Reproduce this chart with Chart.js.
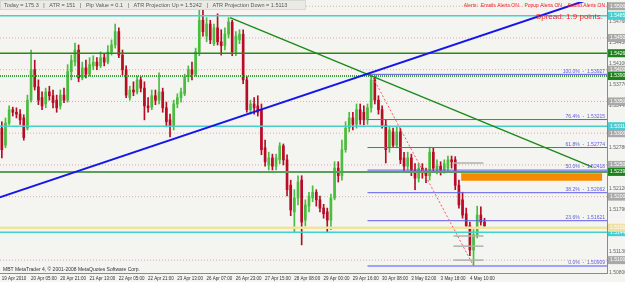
<!DOCTYPE html>
<html><head><meta charset="utf-8">
<script src="https://cdn.jsdelivr.net/npm/chart.js@4.4.0/dist/chart.umd.min.js"></script>
<style>html,body{margin:0;padding:0;background:#f4f4f0;overflow:hidden}canvas{display:block}</style>
</head><body>
<canvas id="c" width="625" height="282"></canvas>
<script>
// ---- candles (H2 bars), index 0..132 ----
const openP = [1.5308,1.5281,1.5316,1.5337,1.5333,1.5330,1.5324,1.5308,1.5352,1.5400,1.5373,1.5356,1.5346,1.5365,1.5359,1.5352,1.5343,1.5360,1.5352,1.5397,1.5412,1.5431,1.5387,1.5403,1.5393,1.5406,1.5412,1.5406,1.5419,1.5412,1.5428,1.5439,1.5460,1.5423,1.5400,1.5356,1.5368,1.5365,1.5384,1.5371,1.5343,1.5341,1.5359,1.5352,1.5365,1.5340,1.5321,1.5311,1.5346,1.5356,1.5362,1.5389,1.5400,1.5393,1.5428,1.5478,1.5453,1.5472,1.5441,1.5466,1.5444,1.5438,1.5456,1.5475,1.5428,1.5447,1.5456,1.5384,1.5337,1.5346,1.5343,1.5337,1.5277,1.5250,1.5261,1.5248,1.5258,1.5280,1.5258,1.5218,1.5176,1.5198,1.5226,1.5163,1.5185,1.5198,1.5207,1.5195,1.5182,1.5176,1.5163,1.5198,1.5245,1.5233,1.5274,1.5308,1.5324,1.5314,1.5337,1.5333,1.5321,1.5340,1.5384,1.5352,1.5337,1.5313,1.5277,1.5302,1.5281,1.5302,1.5261,1.5248,1.5261,1.5242,1.5229,1.5245,1.5239,1.5233,1.5270,1.5242,1.5248,1.5242,1.5245,1.5258,1.5258,1.5218,1.5195,1.5173,1.5154,1.5116,1.5140,1.5171,1.5160];
const highP = [1.5318,1.5324,1.5343,1.5341,1.5340,1.5337,1.5329,1.5360,1.5431,1.5415,1.5384,1.5365,1.5371,1.5374,1.5368,1.5360,1.5368,1.5371,1.5408,1.5423,1.5442,1.5439,1.5412,1.5415,1.5419,1.5422,1.5419,1.5428,1.5425,1.5438,1.5447,1.5472,1.5466,1.5431,1.5406,1.5374,1.5381,1.5390,1.5389,1.5381,1.5356,1.5368,1.5368,1.5395,1.5371,1.5349,1.5330,1.5352,1.5362,1.5371,1.5393,1.5406,1.5412,1.5434,1.5494,1.5502,1.5482,1.5478,1.5472,1.5488,1.5463,1.5466,1.5482,1.5478,1.5460,1.5463,1.5463,1.5389,1.5352,1.5356,1.5359,1.5346,1.5289,1.5270,1.5267,1.5267,1.5285,1.5283,1.5266,1.5226,1.5211,1.5233,1.5233,1.5195,1.5207,1.5217,1.5211,1.5201,1.5188,1.5182,1.5204,1.5255,1.5255,1.5289,1.5318,1.5333,1.5333,1.5346,1.5346,1.5343,1.5346,1.5393,1.5390,1.5359,1.5343,1.5321,1.5311,1.5308,1.5311,1.5308,1.5270,1.5270,1.5267,1.5252,1.5252,1.5252,1.5245,1.5278,1.5277,1.5258,1.5255,1.5258,1.5264,1.5264,1.5263,1.5226,1.5207,1.5182,1.5160,1.5148,1.5185,1.5184,1.5166];
const lowP = [1.5261,1.5277,1.5313,1.5327,1.5324,1.5314,1.5289,1.5305,1.5349,1.5368,1.5345,1.5337,1.5340,1.5352,1.5340,1.5333,1.5338,1.5348,1.5349,1.5384,1.5406,1.5381,1.5384,1.5387,1.5390,1.5400,1.5400,1.5403,1.5406,1.5409,1.5423,1.5434,1.5419,1.5392,1.5356,1.5352,1.5359,1.5362,1.5365,1.5321,1.5333,1.5337,1.5345,1.5346,1.5333,1.5310,1.5294,1.5305,1.5340,1.5349,1.5359,1.5381,1.5384,1.5390,1.5422,1.5453,1.5444,1.5441,1.5438,1.5439,1.5423,1.5431,1.5450,1.5422,1.5422,1.5441,1.5378,1.5333,1.5330,1.5330,1.5327,1.5266,1.5248,1.5242,1.5242,1.5242,1.5252,1.5250,1.5201,1.5170,1.5144,1.5187,1.5124,1.5154,1.5176,1.5192,1.5185,1.5176,1.5166,1.5144,1.5148,1.5195,1.5223,1.5226,1.5270,1.5302,1.5305,1.5308,1.5314,1.5313,1.5314,1.5333,1.5346,1.5330,1.5308,1.5253,1.5270,1.5277,1.5277,1.5252,1.5239,1.5242,1.5233,1.5211,1.5223,1.5229,1.5222,1.5226,1.5239,1.5236,1.5234,1.5237,1.5239,1.5245,1.5211,1.5182,1.5166,1.5151,1.5107,1.5091,1.5135,1.5155,1.5151];
const closeP = [1.5274,1.5316,1.5337,1.5333,1.5330,1.5321,1.5293,1.5352,1.5400,1.5373,1.5352,1.5343,1.5365,1.5359,1.5348,1.5340,1.5360,1.5352,1.5397,1.5415,1.5431,1.5387,1.5403,1.5393,1.5408,1.5412,1.5406,1.5419,1.5412,1.5428,1.5439,1.5460,1.5423,1.5400,1.5360,1.5368,1.5365,1.5384,1.5371,1.5343,1.5340,1.5359,1.5352,1.5365,1.5340,1.5318,1.5311,1.5346,1.5356,1.5365,1.5389,1.5400,1.5393,1.5428,1.5478,1.5460,1.5472,1.5447,1.5466,1.5444,1.5438,1.5456,1.5475,1.5428,1.5453,1.5456,1.5384,1.5337,1.5346,1.5340,1.5333,1.5274,1.5255,1.5261,1.5248,1.5261,1.5280,1.5258,1.5211,1.5179,1.5198,1.5223,1.5160,1.5187,1.5201,1.5207,1.5195,1.5182,1.5173,1.5163,1.5198,1.5245,1.5233,1.5274,1.5308,1.5324,1.5314,1.5337,1.5321,1.5321,1.5340,1.5384,1.5352,1.5337,1.5313,1.5274,1.5305,1.5281,1.5302,1.5258,1.5248,1.5261,1.5242,1.5229,1.5245,1.5239,1.5233,1.5270,1.5245,1.5248,1.5242,1.5252,1.5258,1.5255,1.5218,1.5187,1.5171,1.5154,1.5116,1.5140,1.5171,1.5160,1.5154];

// ---- time axis labels (every 8 bars) ----
const timeLabels = ["19 Apr 2010","20 Apr 05:00","20 Apr 21:00","21 Apr 13:00","22 Apr 05:00","22 Apr 21:00","23 Apr 13:00","26 Apr 07:00","26 Apr 23:00","27 Apr 15:00","28 Apr 08:00","29 Apr 00:00","29 Apr 16:00","30 Apr 08:00","3 May 02:00","3 May 18:00","4 May 10:00"];
const timeLabelBars = [0,8,16,24,32,40,48,56,64,72,80,88,96,104,112,120,128];

// ---- price axis ticks ----
const priceTicks = [1.5080,1.5113,1.5146,1.5179,1.5212,1.5245,1.5278,1.5311,1.5344,1.5377,1.5410,1.5443,1.5476];

// ---- horizontal objects ----
const roundLevels = [1.5100,1.5150,1.5200,1.5250,1.5300,1.5350,1.5400,1.5450,1.5500];
const cyanLevels = [1.5485,1.5311,1.5144];
const greenLevels = [1.5426,1.5390,1.5239];
const creamLevels = [1.5151];
const grayMarks = [1.5253,1.5138,1.5122,1.5100];

// ---- fibonacci ----
const fibPct = [0,23.6,38.2,50,61.8,76.4,100];
const fibPrice = [1.50909,1.51621,1.52062,1.52418,1.52774,1.53215,1.53927];
const fibAnchors = [{x:101,y:1.5393},{x:129,y:1.5091}];

// ---- trendlines ----
const blueTrend = [{x:-1,y:1.5198},{x:170,y:1.5529}];
const greenTrend = [{x:62.4,y:1.5482},{x:161.4,y:1.5247}];
const orangeZone = {x0:125.6, x1:164.2, top:1.5237, bottom:1.5225};

const X_MIN = -0.5, X_MAX = 165.5;
const BULL = '#4cbc40', BEAR = '#b80c26';
const FIB = '#5c5cf0';
const FONT = '"Liberation Sans", Arial, sans-serif';

const idx = openP.map((_, i) => i);
const candleColor = c => closeP[c.dataIndex] >= openP[c.dataIndex] ? BULL : BEAR;

function hline(price, color, width, dash, x0, x1, order) {
  return { type:'line', data:[{x:x0 ?? X_MIN, y:price},{x:x1 ?? X_MAX, y:price}],
    borderColor:color, borderWidth:width, borderDash:dash || [], pointRadius:0, fill:false, order:order ?? 2 };
}

const datasets = [];
datasets.push({ type:'line', data:[{x:orangeZone.x0,y:orangeZone.top},{x:orangeZone.x1,y:orangeZone.top}],
  borderColor:'#f58a00', borderWidth:0, pointRadius:0, fill:{value:orangeZone.bottom}, backgroundColor:'#f58a00', order:20 });
roundLevels.forEach(p => datasets.push(hline(p, '#e4aaaa', 1, [1,2], null, null, 19)));
datasets.push({ type:'bar', data: idx.map(i => ({x:i, y:[lowP[i], highP[i]]})), backgroundColor:candleColor,
  barThickness:1, grouped:false, borderWidth:0, order:10 });
datasets.push({ type:'bar', data: idx.map(i => ({x:i, y:[openP[i], closeP[i]]})), backgroundColor:candleColor,
  barThickness:2, grouped:false, borderWidth:0, minBarLength:1, order:9 });
cyanLevels.forEach(p => datasets.push(hline(p, '#46cfd0', 1.5)));
datasets.push(hline(greenLevels[0], '#238a23', 1.5));
datasets.push(hline(greenLevels[1], '#3aa03a', 2, [1,1]));
datasets.push(hline(greenLevels[2], '#5c9e5c', 2));
creamLevels.forEach(p => datasets.push(hline(p, '#f2e2a2', 2.5, [], null, null, 3)));
grayMarks.forEach(p => datasets.push(hline(p, '#b0b0b0', 1.5, [], 123.5, 131.7)));
fibPrice.forEach((p, i) => datasets.push(hline(p, i === 0 ? '#a0a0ff' : FIB, i === 0 ? 2 : 1, [], 100, X_MAX)));
datasets.push({ type:'line', data:fibAnchors, borderColor:'#ff5a5a', borderWidth:1, borderDash:[2,2], pointRadius:0, fill:false, order:1 });
datasets.push({ type:'line', data:blueTrend, borderColor:'#1515ee', borderWidth:2, pointRadius:0, fill:false, order:1 });
datasets.push({ type:'line', data:greenTrend, borderColor:'#1c8a1c', borderWidth:1.5, pointRadius:0, fill:false, order:1 });

const overlay = {
  id:'overlay',
  beforeDraw(chart) {
    const c = chart.ctx; c.save(); c.fillStyle = '#f4f4f0'; c.fillRect(0,0,chart.width,chart.height); c.restore();
  },
  afterDraw(chart) {
    const c = chart.ctx, ys = chart.scales.y, a = chart.chartArea;
    c.save();
    c.font = '5px ' + FONT; c.textAlign = 'right'; c.textBaseline = 'bottom'; c.fillStyle = FIB;
    fibPct.forEach((p, i) => c.fillText(p.toFixed(1) + '%  -  ' + fibPrice[i].toFixed(5), a.right - 2, ys.getPixelForValue(fibPrice[i]) - 0.5));
    const box = (p, bg, fg) => {
      const py = ys.getPixelForValue(p);
      c.fillStyle = bg; c.fillRect(a.right + 1, py - 4, 20, 8);
      c.fillStyle = fg; c.textAlign = 'left'; c.textBaseline = 'middle'; c.font = '5px ' + FONT;
      c.fillText(p.toFixed(5), a.right + 3, py);
    };
    roundLevels.forEach(p => box(p, '#a9a9a9', '#ffffff'));
    cyanLevels.forEach(p => box(p, '#46cfd0', '#ffffff'));
    greenLevels.forEach(p => box(p, '#1f801f', '#ffffff'));
    creamLevels.forEach(p => box(p, '#ece0a8', '#ffffff'));
    c.fillStyle = '#ebebe6'; c.fillRect(0, 0, 306, 10);
    c.strokeStyle = '#c4c4c4'; c.setLineDash([1,1]); c.lineWidth = 1; c.strokeRect(0.5, 0.5, 305, 9); c.setLineDash([]);
    c.fillStyle = '#555'; c.font = '5.5px ' + FONT; c.textAlign = 'left'; c.textBaseline = 'middle';
    c.fillText('Today = 175.3   |   ATR = 151   |   Pip Value = 0.1   |   ATR Projection Up = 1.5242   |   ATR Projection Down = 1.5113', 4, 5);
    c.fillStyle = '#ff2020'; c.textAlign = 'right'; c.font = '5px ' + FONT;
    c.fillText('Alerts:  Emails Alerts ON .  Popup Alerts ON .  Sound Alerts ON', a.right - 2, 6);
    c.font = '8px ' + FONT;
    c.fillText('Spread: 1.9 points.', a.right - 4, 17);
    c.fillStyle = '#333'; c.textAlign = 'left'; c.font = '5px ' + FONT;
    c.fillText('MBT MetaTrader 4, \u00a9 2001-2008 MetaQuotes Software Corp.', 3, 270);
    c.restore();
  }
};

new Chart(document.getElementById('c'), {
  type:'bar',
  data:{ datasets },
  options:{
    responsive:false, animation:false, devicePixelRatio:1,
    layout:{ padding:{ top:2, left:0, right:0, bottom:0 } },
    plugins:{ legend:{display:false}, tooltip:{enabled:false} },
    scales:{
      x:{ type:'linear', min:X_MIN, max:X_MAX, offset:false,
        grid:{display:false, drawTicks:false}, border:{display:true, color:'#8a8a8a'},
        ticks:{ autoSkip:false, maxRotation:0, minRotation:0, align:'start', padding:3, color:'#333',
          font:{size:4.5, family:FONT}, callback:v => timeLabels[timeLabelBars.indexOf(v)] ?? '' },
        afterBuildTicks:s => { s.ticks = timeLabelBars.map(v => ({value:v})); },
        afterFit:s => { s.height = 9; s.paddingLeft = 0; s.paddingRight = 0; } },
      y:{ position:'right', min:1.50797, max:1.55067,
        grid:{display:false, drawTicks:false}, border:{display:true, color:'#8a8a8a'},
        ticks:{ padding:2, color:'#666', font:{size:5, family:FONT}, callback:v => Number(v).toFixed(5) },
        afterBuildTicks:s => { s.ticks = priceTicks.map(v => ({value:v})); },
        afterFit:s => { s.width = 18; s.paddingTop = 0; s.paddingBottom = 0; } }
    }
  },
  plugins:[overlay]
});
</script>
</body></html>
